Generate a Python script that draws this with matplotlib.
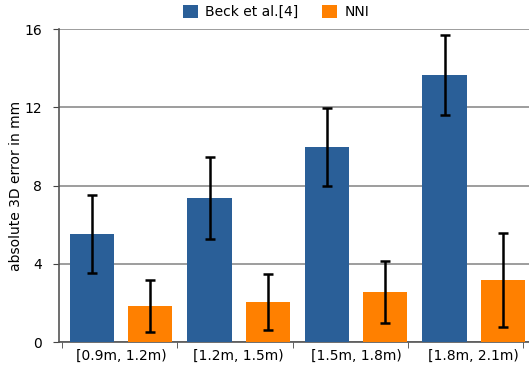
import matplotlib
matplotlib.use("Agg")
import matplotlib.pyplot as plt
import numpy as np

categories = ["[0.9m, 1.2m)", "[1.2m, 1.5m)", "[1.5m, 1.8m)", "[1.8m, 2.1m)"]
series_names = ["Beck et al.[4]", "NNI"]
beck_mean = [5.52, 7.36, 9.97, 13.65]
beck_err = [2.0, 2.1, 2.0, 2.06]
nni_mean = [1.84, 2.04, 2.56, 3.17]
nni_err = [1.33, 1.43, 1.57, 2.38]
yticks = [0, 4, 8, 12, 16]

blue = "#2a5f98"
orange = "#ff8000"

fig = plt.figure(figsize=(5.29, 3.66), dpi=100)
ax = fig.add_axes([59/529, 1 - 342/366, 470/529, 313/366])

x = np.arange(len(categories))
w = 0.375
off = 0.247
ax.bar(x - off, beck_mean, w, color=blue, label=series_names[0], zorder=3)
ax.bar(x + off, nni_mean, w, color=orange, label=series_names[1], zorder=3)
ekw = dict(fmt="none", ecolor="black", elinewidth=1.8, capsize=3.8, capthick=1.8, zorder=4)
ax.errorbar(x - off, beck_mean, yerr=beck_err, **ekw)
ax.errorbar(x + off, nni_mean, yerr=nni_err, **ekw)

ax.set_xlim(-0.528, 3.472)
ax.set_ylim(0, 16)
ax.set_yticks(yticks)
ax.set_yticklabels([str(v) for v in yticks], fontsize=10)
ax.yaxis.grid(True, color="#8c8c8c", linewidth=1.2, zorder=0)
ax.set_axisbelow(True)

ax.set_xticks(x)
ax.set_xticklabels(categories, fontsize=10)
ax.tick_params(axis="x", which="major", length=0, pad=5)
ax.set_xticks(np.arange(len(categories) + 1) - 0.5 - 0.02 * np.arange(len(categories) + 1), minor=True)
ax.tick_params(axis="x", which="minor", length=4, color="#444444")
ax.tick_params(axis="y", length=4, color="#444444", pad=8)

for s in ["top", "right"]:
    ax.spines[s].set_visible(False)
ax.spines["left"].set_color("#555555")
ax.spines["bottom"].set_color("#555555")
ax.spines["left"].set_linewidth(1.2)
ax.spines["bottom"].set_linewidth(1.2)

ax.set_ylabel("absolute 3D error in mm", fontsize=10, labelpad=1)

ax.legend(loc="lower center", bbox_to_anchor=(0.462, 1.005), ncol=2, frameon=False,
          fontsize=10, handlelength=1.1, handleheight=1.1, handletextpad=0.5,
          columnspacing=1.7, borderaxespad=0.2)

fig.savefig("out.png", dpi=100)
